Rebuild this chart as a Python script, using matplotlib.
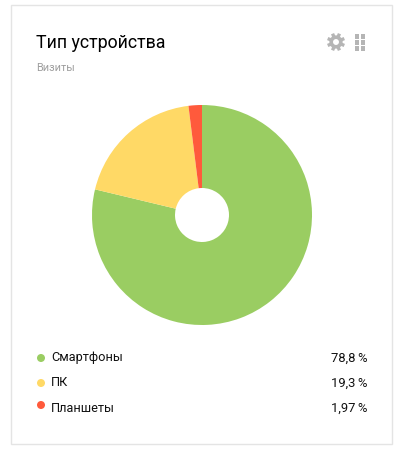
import numpy as np
import matplotlib
matplotlib.use("Agg")
import matplotlib.pyplot as plt
from matplotlib.patches import Rectangle, Circle

plt.rcParams['font.family'] = ['Roboto', 'DejaVu Sans']

title = "Тип устройства"
subtitle = "Визиты"
categories = ["Смартфоны", "ПК", "Планшеты"]
values = [78.8, 19.3, 1.97]
value_labels = ["78,8\u2009%", "19,3\u2009%", "1,97\u2009%"]
colors = ["#9ACD62", "#FFD966", "#FF5A3C"]
legend_y = [358, 383, 408]
dot_y = [358, 383, 405]

W, H = 412, 457


def y(py):
    return H - py


fig = plt.figure(figsize=(W / 100, H / 100), dpi=100)
ax = fig.add_axes([0, 0, 1, 1])

ax.pie(values, colors=colors, startangle=90, counterclock=False,
       center=(202, y(215)), radius=110,
       wedgeprops=dict(width=83, linewidth=0))

ax.set_xlim(0, W)
ax.set_ylim(0, H)
ax.set_aspect('equal')
ax.axis('off')

# card
ax.add_patch(Rectangle((11.5, y(444)), 381, 439, fill=False, edgecolor="#E4E4E4", linewidth=1))

ax.text(36, y(43), title, fontsize=12.8, color="black", va='center', ha='left')
ax.text(36, y(68), subtitle, fontsize=7.8, color="#9E9E9E", va='center', ha='left')

# gear icon
for a in np.arange(0, 360, 45):
    r = np.deg2rad(a + 22.5)
    ax.plot([336 + 5 * np.cos(r), 336 + 9 * np.cos(r)],
            [y(42) + 5 * np.sin(r), y(42) + 9 * np.sin(r)],
            color="#B5B5B5", linewidth=2.4, solid_capstyle='butt')
ax.add_patch(Circle((336, y(42)), 4.8, facecolor="white", edgecolor="#B5B5B5", linewidth=2.6))

# grid icon
for px in [355, 361]:
    for py in [34, 40, 46]:
        ax.add_patch(Rectangle((px, y(py + 4.5)), 4.5, 4.5, facecolor="#B5B5B5", edgecolor="none"))

# legend
for name, label, c, ly, dy in zip(categories, value_labels, colors, legend_y, dot_y):
    ax.add_patch(Circle((41, y(dy)), 4, facecolor=c, edgecolor="none"))
    ax.text(51, y(ly), name, fontsize=9.2, color="#111111", va='center', ha='left')
    ax.text(368, y(ly), label, fontsize=9.4, color="#111111", va='center', ha='right')

fig.savefig("out.png", dpi=100)
